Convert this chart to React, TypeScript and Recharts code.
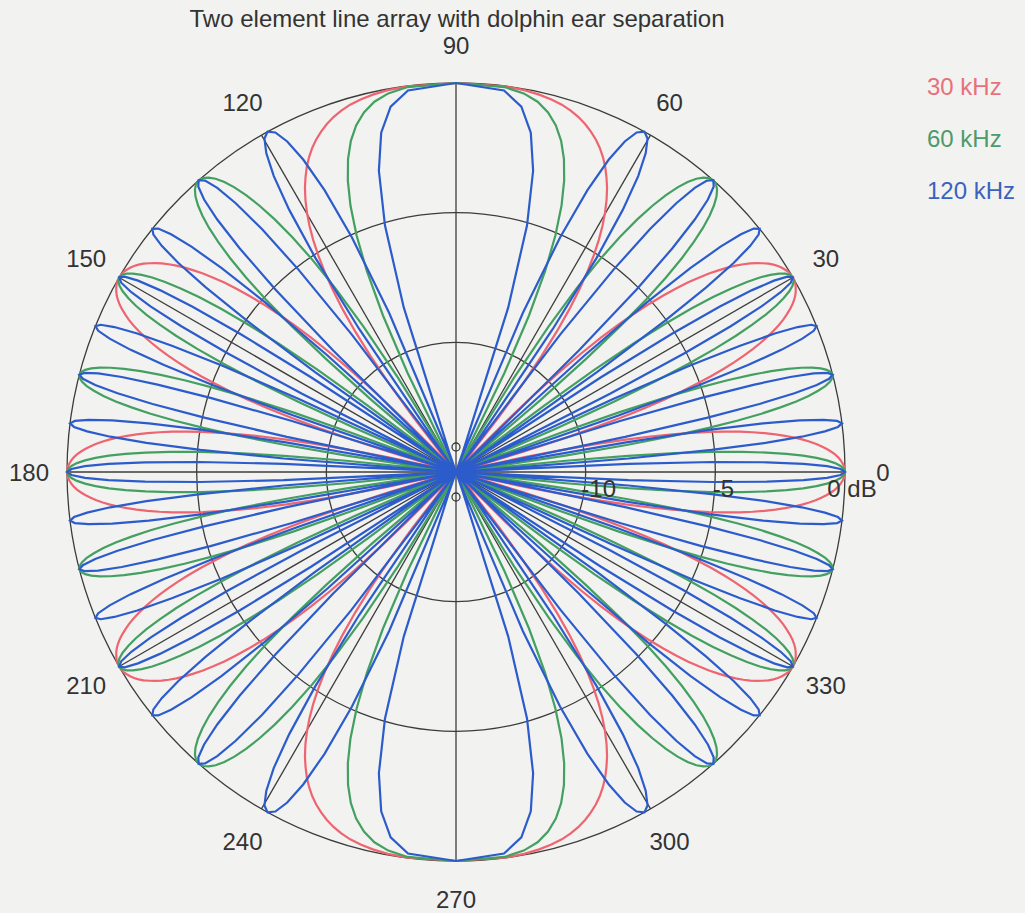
import React from 'react';
import { RadarChart, Radar, PolarGrid, PolarAngleAxis, PolarRadiusAxis } from 'recharts';

// Sampling angles (degrees) over the first quadrant. The pattern is mirror
// symmetric about both the 0-180 and the 90-270 axes, so the other three
// quadrants reuse these samples.
const sampleAngles = [
  0, 0.45, 0.9, 1.34, 1.79, 2.24, 2.69, 3.13, 3.58, 4.03,
  4.48, 4.93, 5.38, 5.83, 6.28, 6.73, 7.18, 7.63, 8.08, 8.54,
  8.99, 9.44, 9.9, 10.35, 10.81, 11.26, 11.72, 12.18, 12.64, 13.09,
  13.55, 14.02, 14.48, 14.94, 15.4, 15.87, 16.33, 16.8, 17.27, 17.74,
  18.21, 18.68, 19.16, 19.63, 20.11, 20.58, 21.06, 21.54, 22.02, 22.51,
  22.99, 23.48, 23.97, 24.46, 24.95, 25.45, 25.94, 26.44, 26.94, 27.45,
  27.95, 28.46, 28.97, 29.48, 30.0, 30.52, 31.04, 31.56, 32.09, 32.62,
  33.15, 33.69, 34.23, 34.77, 35.32, 35.87, 36.42, 36.98, 37.54, 38.11,
  38.68, 39.26, 39.84, 40.42, 41.01, 41.61, 42.21, 42.82, 43.43, 44.05,
  44.68, 45.31, 45.95, 46.6, 47.25, 47.92, 48.59, 49.27, 49.96, 50.66,
  51.38, 52.1, 52.83, 53.58, 54.34, 55.12, 55.91, 56.71, 57.54, 58.38,
  59.25, 60.13, 61.04, 61.98, 62.95, 63.95, 64.99, 66.07, 67.2, 68.39,
  69.64, 70.96, 72.39, 73.93, 75.64, 77.57, 79.86, 82.83, 90,
];

// Response in dB at each sampling angle (the pole of the plot is -15 dB).
const level30kHz = [
  0, -0.01, -0.04, -0.1, -0.17, -0.26, -0.38, -0.52, -0.69, -0.88, -1.09, -1.33, -1.6, -1.9, -2.24, -2.6,
  -3.01, -3.46, -3.95, -4.5, -5.11, -5.78, -6.53, -7.38, -8.34, -9.45, -10.74, -12.29, -14.2, -15, -15, -15, -15,
  -15, -15, -15, -14.2, -12.29, -10.74, -9.45, -8.34, -7.38, -6.53, -5.78, -5.11, -4.5, -3.95, -3.46, -3.01,
  -2.6, -2.24, -1.9, -1.6, -1.33, -1.09, -0.88, -0.69, -0.52, -0.38, -0.26, -0.17, -0.1, -0.04, -0.01,
  0, -0.01, -0.04, -0.1, -0.17, -0.26, -0.38, -0.52, -0.69, -0.88, -1.09, -1.33, -1.6, -1.9, -2.24, -2.6,
  -3.01, -3.46, -3.95, -4.5, -5.11, -5.78, -6.53, -7.38, -8.34, -9.45, -10.74, -12.29, -14.2, -15, -15, -15, -15,
  -15, -15, -15, -14.2, -12.29, -10.74, -9.45, -8.34, -7.38, -6.53, -5.78, -5.11, -4.5, -3.95, -3.46, -3.01,
  -2.6, -2.24, -1.9, -1.6, -1.33, -1.09, -0.88, -0.69, -0.52, -0.38, -0.26, -0.17, -0.1, -0.04, -0.01,
  0,
];

const level60kHz = [
  0, -0.04, -0.17, -0.38, -0.69, -1.09, -1.6, -2.24, -3.01, -3.95, -5.11, -6.53, -8.34, -10.74, -14.2, -15,
  -15, -15, -14.2, -10.74, -8.34, -6.53, -5.11, -3.95, -3.01, -2.24, -1.6, -1.09, -0.69, -0.38, -0.17, -0.04,
  0, -0.04, -0.17, -0.38, -0.69, -1.09, -1.6, -2.24, -3.01, -3.95, -5.11, -6.53, -8.34, -10.74, -14.2, -15,
  -15, -15, -14.2, -10.74, -8.34, -6.53, -5.11, -3.95, -3.01, -2.24, -1.6, -1.09, -0.69, -0.38, -0.17, -0.04,
  0, -0.04, -0.17, -0.38, -0.69, -1.09, -1.6, -2.24, -3.01, -3.95, -5.11, -6.53, -8.34, -10.74, -14.2, -15,
  -15, -15, -14.2, -10.74, -8.34, -6.53, -5.11, -3.95, -3.01, -2.24, -1.6, -1.09, -0.69, -0.38, -0.17, -0.04,
  0, -0.04, -0.17, -0.38, -0.69, -1.09, -1.6, -2.24, -3.01, -3.95, -5.11, -6.53, -8.34, -10.74, -14.2, -15,
  -15, -15, -14.2, -10.74, -8.34, -6.53, -5.11, -3.95, -3.01, -2.24, -1.6, -1.09, -0.69, -0.38, -0.17, -0.04,
  0,
];

const level120kHz = [
  0, -0.17, -0.69, -1.6, -3.01, -5.11, -8.34, -14.2, -15, -14.2, -8.34, -5.11, -3.01, -1.6, -0.69, -0.17,
  0, -0.17, -0.69, -1.6, -3.01, -5.11, -8.34, -14.2, -15, -14.2, -8.34, -5.11, -3.01, -1.6, -0.69, -0.17,
  0, -0.17, -0.69, -1.6, -3.01, -5.11, -8.34, -14.2, -15, -14.2, -8.34, -5.11, -3.01, -1.6, -0.69, -0.17,
  0, -0.17, -0.69, -1.6, -3.01, -5.11, -8.34, -14.2, -15, -14.2, -8.34, -5.11, -3.01, -1.6, -0.69, -0.17,
  0, -0.17, -0.69, -1.6, -3.01, -5.11, -8.34, -14.2, -15, -14.2, -8.34, -5.11, -3.01, -1.6, -0.69, -0.17,
  0, -0.17, -0.69, -1.6, -3.01, -5.11, -8.34, -14.2, -15, -14.2, -8.34, -5.11, -3.01, -1.6, -0.69, -0.17,
  0, -0.17, -0.69, -1.6, -3.01, -5.11, -8.34, -14.2, -15, -14.2, -8.34, -5.11, -3.01, -1.6, -0.69, -0.17,
  0, -0.17, -0.69, -1.6, -3.01, -5.11, -8.34, -14.2, -15, -14.2, -8.34, -5.11, -3.01, -1.6, -0.69, -0.17,
  0,
];

const seriesNames = ['30 kHz', '60 kHz', '120 kHz'];
const seriesColors = ['#ee6470', '#43a060', '#2c5ccc'];
const legendColors = ['#e8707a', '#4d9a6a', '#3a62bf'];

const angleTicks = [0, 30, 60, 90, 120, 150, 180, 210, 240, 270, 300, 330];
const levelTicks = [-15, -10, -5, 0];
const levelLabelValues = [-10, -5, 0];
const levelLabelTexts = ['-10', '-5', '0 dB'];
const levelLabelShift = [13, 8, 7];

const title = 'Two element line array with dolphin ear separation';

// Full-circle table, walking counter-clockwise from 0 degrees.
type Row = { angle: number; f30: number; f60: number; f120: number };
const rows: Row[] = [];
const addRow = (angle: number, i: number) =>
  rows.push({ angle, f30: level30kHz[i], f60: level60kHz[i], f120: level120kHz[i] });
const last = sampleAngles.length - 1;
for (let i = 0; i <= last; i++) addRow(sampleAngles[i], i);
for (let i = last - 1; i >= 0; i--) addRow(180 - sampleAngles[i], i);
for (let i = 1; i <= last; i++) addRow(180 + sampleAngles[i], i);
for (let i = last - 1; i >= 1; i--) addRow(360 - sampleAngles[i], i);

const FONT = '"Liberation Sans", Arial, Helvetica, sans-serif';
const TEXT = '#333333';
const GRID = '#3c3c3c';
const CX = 456;
const CY = 472;

const AngleTick = (props: any) => {
  const { x, y, payload } = props;
  return (
    <text x={x} y={y} textAnchor="middle" dominantBaseline="central" fontSize={24} fontFamily={FONT} fill={TEXT}>
      {payload.value}
    </text>
  );
};

const LevelTick = (props: any) => {
  const { x, y, payload } = props;
  const idx = levelLabelValues.indexOf(payload.value);
  if (idx < 0) return <g />;
  return (
    <text
      x={x + levelLabelShift[idx]}
      y={y + 16}
      textAnchor="middle"
      dominantBaseline="central"
      fontSize={24}
      fontFamily={FONT}
      fill={TEXT}
    >
      {levelLabelTexts[idx]}
    </text>
  );
};

export default function App() {
  const W = 1025;
  const H = 913;
  return (
    <div style={{ position: 'absolute', left: 0, top: 0, width: W, height: H, background: '#f2f2f0', overflow: 'hidden' }}>
      <RadarChart
        width={W}
        height={H}
        data={rows}
        cx={CX}
        cy={CY}
        outerRadius={389}
        startAngle={0}
        endAngle={360}
        margin={{ top: 0, right: 0, bottom: 0, left: 0 }}
      >
        <PolarGrid gridType="circle" stroke={GRID} strokeWidth={1.3} />
        <PolarAngleAxis
          dataKey="angle"
          type="number"
          domain={[0, 360]}
          allowDataOverflow
          ticks={angleTicks}
          tickSize={38}
          tickLine={false}
          axisLine={false}
          tick={<AngleTick />}
        />
        <PolarRadiusAxis
          angle={0}
          type="number"
          domain={[-15, 0]}
          allowDataOverflow
          ticks={levelTicks}
          tickCount={4}
          axisLine={false}
          tickLine={false}
          tick={<LevelTick />}
        />
        <Radar dataKey="f30" name={seriesNames[0]} stroke={seriesColors[0]} strokeWidth={2.2} fill="none" fillOpacity={0} dot={false} isAnimationActive={false} />
        <Radar dataKey="f60" name={seriesNames[1]} stroke={seriesColors[1]} strokeWidth={2.2} fill="none" fillOpacity={0} dot={false} isAnimationActive={false} />
        <Radar dataKey="f120" name={seriesNames[2]} stroke={seriesColors[2]} strokeWidth={2.2} fill="none" fillOpacity={0} dot={false} isAnimationActive={false} />
      </RadarChart>
      <svg width={W} height={H} style={{ position: 'absolute', left: 0, top: 0, pointerEvents: 'none' }}>
        <text x={457} y={27} textAnchor="middle" fontSize={24} fontFamily={FONT} fill={TEXT}>
          {title}
        </text>
        {seriesNames.map((name, i) => (
          <text key={name} x={927} y={95 + i * 52} fontSize={24} fontFamily={FONT} fill={legendColors[i]}>
            {name}
          </text>
        ))}
        {/* small ring markers on the vertical axis near the pole */}
        <circle cx={CX} cy={CY - 25} r={4} fill="none" stroke={GRID} strokeWidth={1.3} />
        <circle cx={CX} cy={CY + 25} r={4} fill="none" stroke={GRID} strokeWidth={1.3} />
      </svg>
    </div>
  );
}
